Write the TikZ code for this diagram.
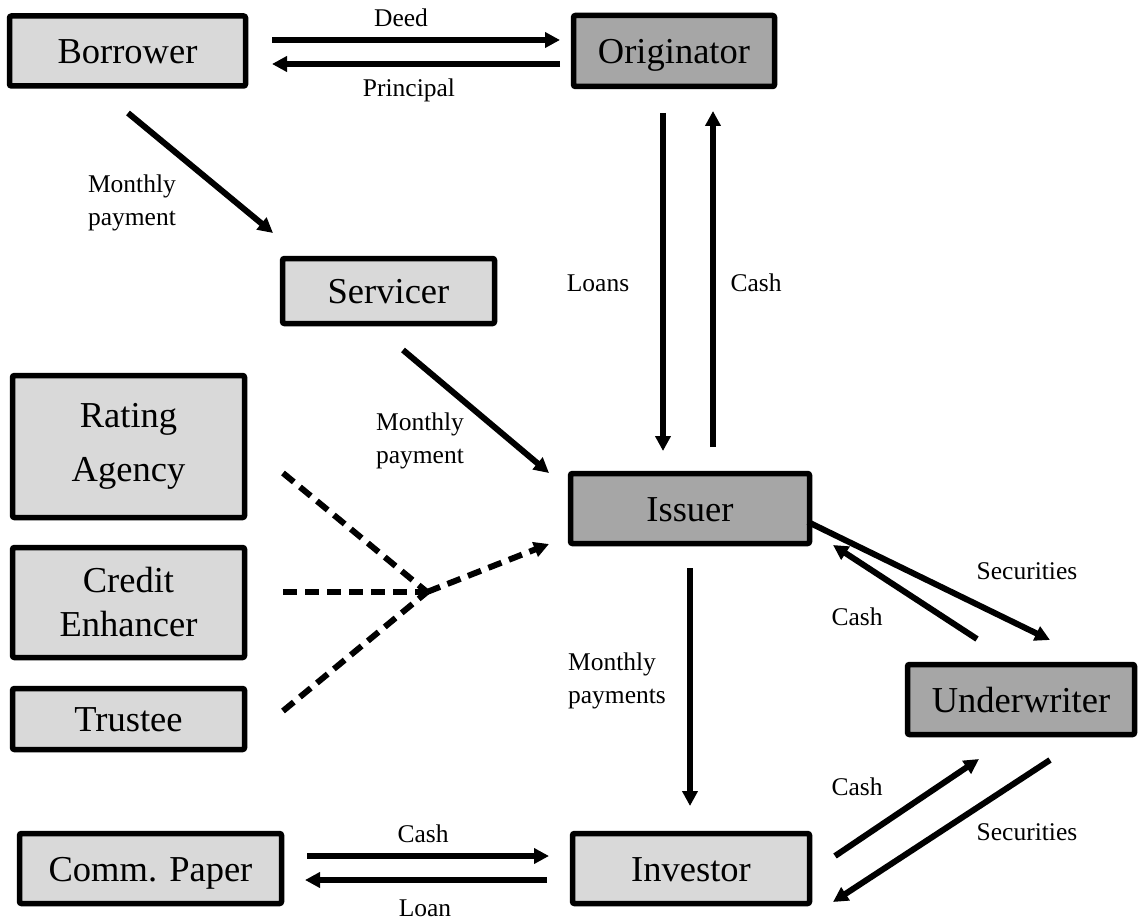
\documentclass[tikz,border=0pt]{standalone}
\usepackage{fontspec}
\setmainfont{Liberation Serif}
\usetikzlibrary{arrows.meta}
\definecolor{lightbox}{HTML}{D9D9D9}
\definecolor{darkbox}{HTML}{A6A6A6}
\tikzset{
  ent/.style={draw=black, line width=5.5pt, rounded corners=2pt, inner sep=0pt, align=center,
    font=\fontsize{36.5}{44}\selectfont},
  lbox/.style={ent, fill=lightbox},
  dbox/.style={ent, fill=darkbox},
  oneline/.style={text height=25pt, text depth=0pt},
  flow/.style={line width=6pt, -{Triangle[length=15pt,width=15pt]}},
  dflow/.style={line width=6pt, dash pattern=on 14pt off 8pt},
  lab/.style={font=\fontsize{25.5}{33}\selectfont, align=center, inner sep=0pt},
}
\begin{document}
\begin{tikzpicture}[x=1pt,y=-1pt]
\useasboundingbox (0,0) rectangle (1140,920);
% boxes
\node[lbox, oneline, minimum width=236pt, minimum height=70pt] (borrower) at (127.5,51) {Borrower};
\node[dbox, oneline, minimum width=201pt, minimum height=71pt] (orig) at (674,51) {Originator};
\node[lbox, oneline, minimum width=212pt, minimum height=65pt] (serv) at (388.5,291) {Servicer};
\node[lbox, minimum width=232pt, minimum height=142pt] (rating) at (128.5,446.5) {Rating\\[10pt]Agency};
\node[lbox, minimum width=232pt, minimum height=110pt] (credit) at (128.5,602.5) {Credit\\Enhancer};
\node[lbox, oneline, minimum width=232pt, minimum height=61pt] (trustee) at (128.5,719) {Trustee};
\node[dbox, oneline, minimum width=239pt, minimum height=70pt] (issuer) at (690,508.5) {Issuer};
\node[dbox, oneline, minimum width=227pt, minimum height=70pt] (under) at (1021,699.5) {Underwriter};
\node[lbox, oneline, minimum width=262pt, minimum height=70pt] (paper) at (150.5,868.5) {Comm. Paper};
\node[lbox, oneline, minimum width=237pt, minimum height=70pt] (investor) at (691,868.5) {Investor};
% connector end points
\coordinate (bo1) at (272,40);   \coordinate (or1) at (560,40);
\coordinate (or2) at (560,64);   \coordinate (bo2) at (272,64);
\coordinate (bo3) at (128,113);  \coordinate (se1) at (273,233);
\coordinate (se2) at (403,350);  \coordinate (is1) at (549,473);
\coordinate (or3) at (663,113);  \coordinate (is2) at (663,451);
\coordinate (is3) at (713,447);  \coordinate (or4) at (713,111);
\coordinate (is4) at (690,568);  \coordinate (in1) at (690,806);
\coordinate (is5) at (808,522);  \coordinate (un1) at (1050,640);
\coordinate (un2) at (977,639);  \coordinate (is6) at (833,545);
\coordinate (in2) at (835,856);  \coordinate (un3) at (979,759);
\coordinate (un4) at (1050,760); \coordinate (in3) at (833,902);
\coordinate (pa1) at (307,856);  \coordinate (in4) at (549,856);
\coordinate (in5) at (547,880);  \coordinate (pa2) at (305,880);
\coordinate (ra1) at (283,473);  \coordinate (cr1) at (283,592);
\coordinate (tr1) at (283,711);  \coordinate (jn) at (427,592);
\coordinate (is7) at (549,544);
% solid flows
\draw[flow] (bo1) -- (or1);
\draw[flow] (or2) -- (bo2);
\draw[flow] (bo3) -- (se1);
\draw[flow] (se2) -- (is1);
\draw[flow] (or3) -- (is2);
\draw[flow] (is3) -- (or4);
\draw[flow] (is4) -- (in1);
\draw[flow] (is5) -- (un1);
\draw[flow] (un2) -- (is6);
\draw[flow] (in2) -- (un3);
\draw[flow] (un4) -- (in3);
\draw[flow] (pa1) -- (in4);
\draw[flow] (in5) -- (pa2);
% dashed flows
\draw[dflow] (ra1) -- (jn);
\draw[dflow] (cr1) -- (jn);
\draw[dflow] (tr1) -- (jn);
\draw[dflow, -{Triangle[length=15pt,width=15pt]}] (jn) -- (is7);
% labels
\node[lab] (l1) at (401,18) {Deed};
\node[lab] (l2) at (409,90) {Principal};
\node[lab, align=left] (l3) at (132,203) {Monthly\\payment};
\node[lab, align=left] (l4) at (420,441) {Monthly\\payment};
\node[lab] (l5) at (598,283) {Loans};
\node[lab] (l6) at (756,283) {Cash};
\node[lab, align=left] (l7) at (617,681) {Monthly\\payments};
\node[lab] (l8) at (1027,571) {Securities};
\node[lab] (l9) at (857,617) {Cash};
\node[lab] (l10) at (857,787) {Cash};
\node[lab] (l11) at (1027,832) {Securities};
\node[lab] (l12) at (423,834) {Cash};
\node[lab] (l13) at (425,908) {Loan};
\end{tikzpicture}
\end{document}
